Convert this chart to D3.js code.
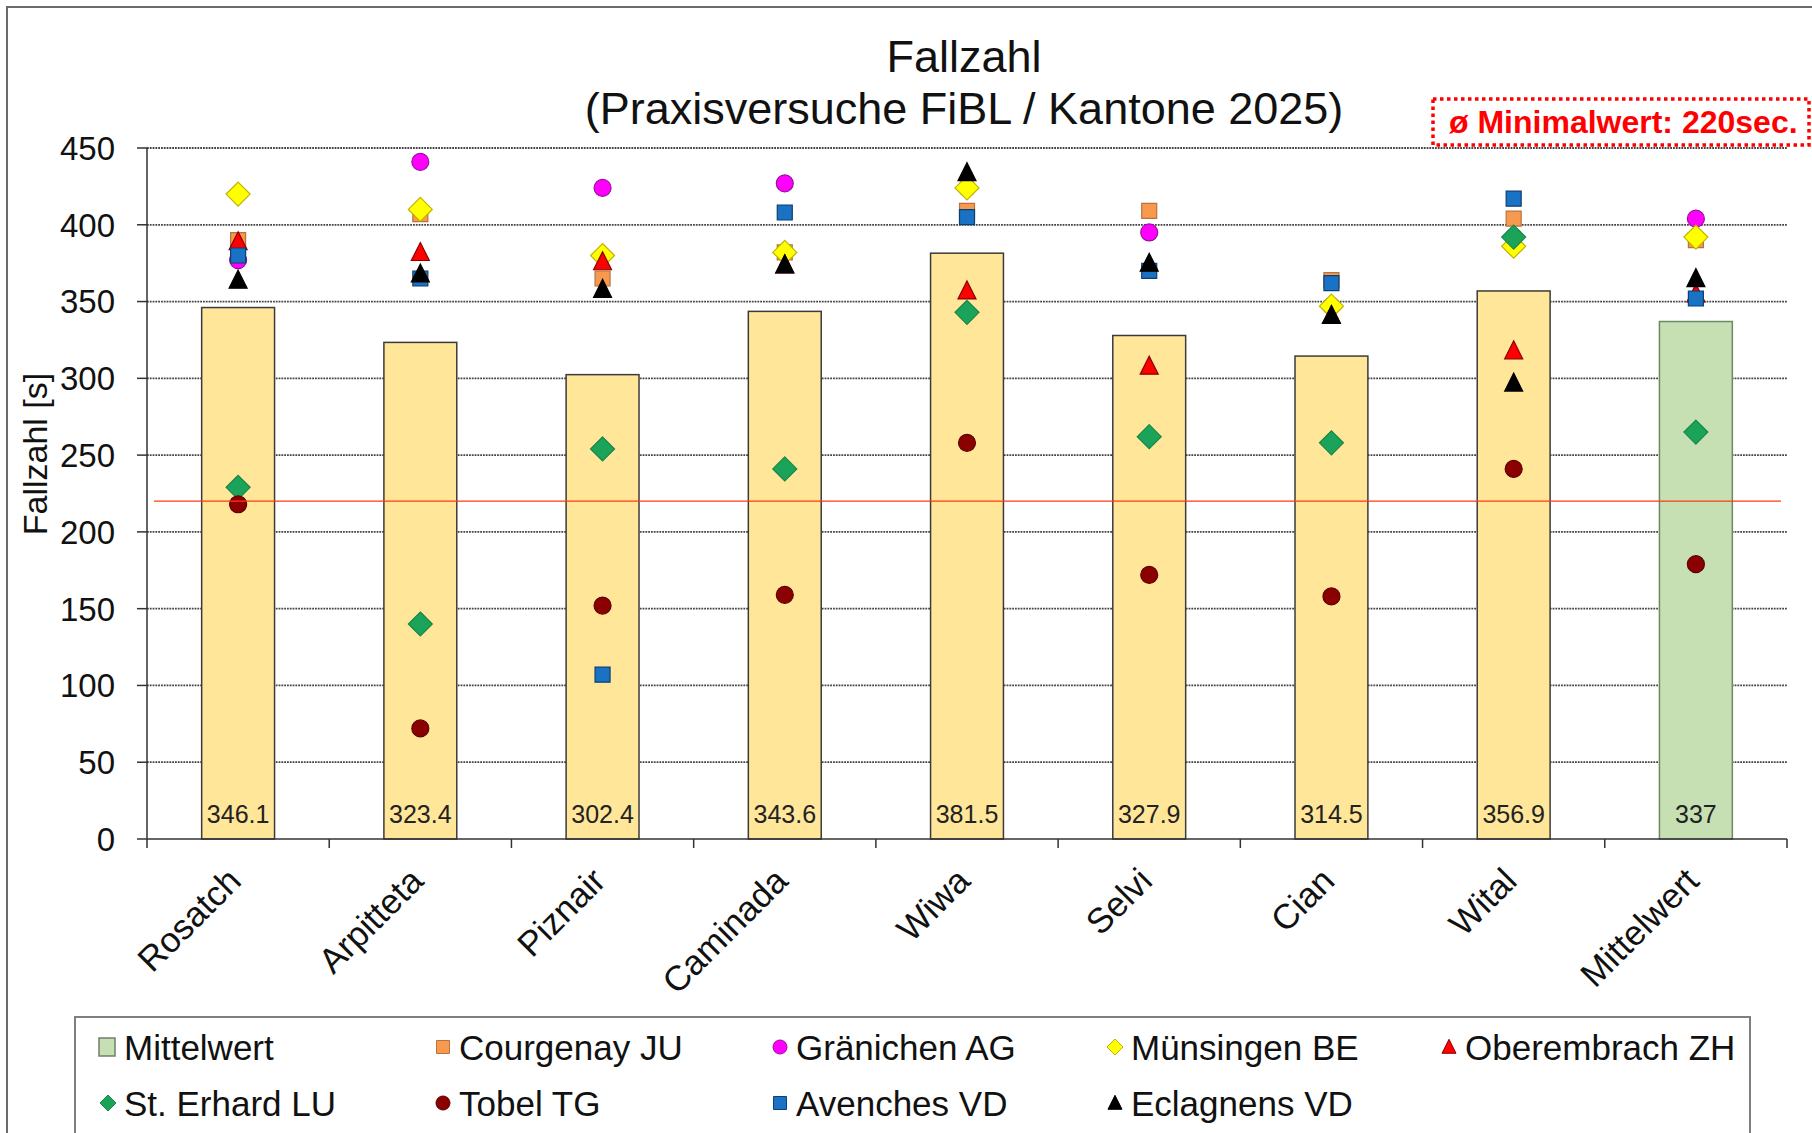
<!DOCTYPE html>
<html>
<head>
<meta charset="utf-8">
<script src="https://cdn.jsdelivr.net/npm/d3@7"></script>
<style>
  html, body { margin: 0; padding: 0; background: #fff; }
  svg { display: block; font-family: "Liberation Sans", Arial, sans-serif; }
</style>
</head>
<body>
<div id="chart"></div>
<script>
const categories = ["Rosatch", "Arpitteta", "Piznair", "Caminada", "Wiwa", "Selvi", "Cian", "Wital", "Mittelwert"];
const barValues = [346.1, 323.4, 302.4, 343.6, 381.5, 327.9, 314.5, 356.9, 337];

// one value per category, last one is the Mittelwert column
const courgenay = [390, 407, 365, 382, 409, 409, 364, 404, 390];
const graenichen = [377, 441, 424, 427, 424, 395, 347, 392, 404];
const muensingen = [420, 410, 380, 382, 424, null, 347, 386, 392];
const oberembrach = [389, 382, 376, 374, 357, 308, 341, 318, 355];
const stErhard = [229, 140, 254, 241, 343, 262, 258, 392, 265];
const tobel = [218, 72, 152, 159, 258, 172, 158, 241, 179];
const avenches = [380, 365, 107, 408, 405, 370, 362, 417, 352];
const eclagnens = [364, 368, 358, 374, 434, 375, 341, 297, 365];

const yTicks = [0, 50, 100, 150, 200, 250, 300, 350, 400, 450];
const minimalwert = 220;

const series = [
  { name: "Courgenay JU", values: courgenay, shape: "square", fill: "#f79a4f", stroke: "#b8733c" },
  { name: "Gränichen AG", values: graenichen, shape: "circle", fill: "#ff00ff", stroke: "#9b109b" },
  { name: "Münsingen BE", values: muensingen, shape: "diamond", fill: "#ffff00", stroke: "#c2b200" },
  { name: "Oberembrach ZH", values: oberembrach, shape: "triangle", fill: "#ff0000", stroke: "#8a0000" },
  { name: "St. Erhard LU", values: stErhard, shape: "diamond", fill: "#1ca35a", stroke: "#17874a" },
  { name: "Tobel TG", values: tobel, shape: "circle", fill: "#8b0000", stroke: "#5e0000" },
  { name: "Avenches VD", values: avenches, shape: "square", fill: "#1a72c4", stroke: "#0d3f73" },
  { name: "Eclagnens VD", values: eclagnens, shape: "triangle", fill: "#000000", stroke: "#000000" },
];

const width = 1812;
const height = 1133;
const plot = { left: 147, right: 1787, top: 148, bottom: 839 };

// marker outline paths, centred on 0,0
function markerPath(shape, s) {
  const h = s / 2;
  if (shape === "square") return `M${-h},${-h}H${h}V${h}H${-h}Z`;
  if (shape === "diamond") return `M0,${-h}L${h},0L0,${h}L${-h},0Z`;
  if (shape === "triangle") return `M0,${-h * 1.1}L${h},${h * 0.9}L${-h},${h * 0.9}Z`;
  return `M${h},0A${h},${h} 0 1,1 ${-h},0A${h},${h} 0 1,1 ${h},0Z`;
}
const chartSize = { square: 15, circle: 17, diamond: 24, triangle: 18 };
const legendSize = { square: 13, circle: 14, diamond: 16, triangle: 14 };

const svg = d3
  .select("#chart")
  .append("svg")
  .attr("width", width)
  .attr("height", height);

svg.append("rect").attr("width", width).attr("height", height).attr("fill", "#fff");

// outer chart frame (runs off the right and bottom edge)
svg
  .append("rect")
  .attr("x", 7)
  .attr("y", 7)
  .attr("width", 1840)
  .attr("height", 1160)
  .attr("fill", "none")
  .attr("stroke", "#6b6b6b")
  .attr("stroke-width", 2);

const x = d3
  .scaleBand()
  .domain(categories)
  .range([plot.left, plot.right])
  .paddingInner(0.6)
  .paddingOuter(0.3);

const y = d3.scaleLinear().domain([0, 450]).range([plot.bottom, plot.top]);

const cx = (c) => x(c) + x.bandwidth() / 2;
const step = x.step();

// gridlines
svg
  .append("g")
  .selectAll("line")
  .data(yTicks.filter((d) => d > 0))
  .enter()
  .append("line")
  .attr("x1", plot.left)
  .attr("x2", plot.right)
  .attr("y1", (d) => y(d))
  .attr("y2", (d) => y(d))
  .attr("stroke", "#444")
  .attr("stroke-width", 1.8)
  .attr("stroke-dasharray", "1.8,1");

// y axis
const yAxis = svg.append("g");
yAxis
  .append("line")
  .attr("x1", plot.left)
  .attr("x2", plot.left)
  .attr("y1", plot.top)
  .attr("y2", plot.bottom)
  .attr("stroke", "#333")
  .attr("stroke-width", 1.5);
yAxis
  .selectAll(".tick")
  .data(yTicks)
  .enter()
  .append("line")
  .attr("x1", plot.left - 10)
  .attr("x2", plot.left)
  .attr("y1", (d) => y(d))
  .attr("y2", (d) => y(d))
  .attr("stroke", "#333")
  .attr("stroke-width", 1.5);
yAxis
  .selectAll(".lbl")
  .data(yTicks)
  .enter()
  .append("text")
  .attr("x", 115)
  .attr("y", (d) => y(d))
  .attr("dy", "0.36em")
  .attr("text-anchor", "end")
  .attr("font-size", 33)
  .attr("fill", "#111")
  .text((d) => d);

svg
  .append("text")
  .attr("transform", "translate(47,454) rotate(-90)")
  .attr("text-anchor", "middle")
  .attr("font-size", 34)
  .attr("fill", "#111")
  .text("Fallzahl [s]");

// bars
svg
  .append("g")
  .selectAll("rect")
  .data(categories)
  .enter()
  .append("rect")
  .attr("x", (d) => x(d))
  .attr("y", (d, i) => y(barValues[i]))
  .attr("width", x.bandwidth())
  .attr("height", (d, i) => y(0) - y(barValues[i]))
  .attr("fill", (d) => (d === "Mittelwert" ? "#c6e0b4" : "#ffe699"))
  .attr("stroke", (d) => (d === "Mittelwert" ? "#6f8763" : "#3b3b3b"))
  .attr("stroke-width", 1.5);

svg
  .append("g")
  .selectAll("text")
  .data(categories)
  .enter()
  .append("text")
  .attr("x", (d) => cx(d))
  .attr("y", y(0) - 16)
  .attr("text-anchor", "middle")
  .attr("font-size", 25)
  .attr("fill", "#222")
  .text((d, i) => barValues[i]);

// x axis with ticks between categories
const xAxis = svg.append("g");
xAxis
  .append("line")
  .attr("x1", plot.left)
  .attr("x2", plot.right)
  .attr("y1", plot.bottom)
  .attr("y2", plot.bottom)
  .attr("stroke", "#333")
  .attr("stroke-width", 1.5);
xAxis
  .selectAll(".tick")
  .data(d3.range(categories.length + 1))
  .enter()
  .append("line")
  .attr("x1", (i) => plot.left + i * step)
  .attr("x2", (i) => plot.left + i * step)
  .attr("y1", plot.bottom)
  .attr("y2", plot.bottom + 9)
  .attr("stroke", "#333")
  .attr("stroke-width", 1.5);
xAxis
  .selectAll(".lbl")
  .data(categories)
  .enter()
  .append("text")
  .attr("transform", (d) => `translate(${cx(d) + 5},${plot.bottom + 44}) rotate(-45)`)
  .attr("text-anchor", "end")
  .attr("font-size", 35)
  .attr("fill", "#111")
  .text((d) => d);

// site markers
series.forEach((s) => {
  svg
    .append("g")
    .selectAll("path")
    .data(s.values.map((v, i) => ({ v, c: categories[i] })).filter((d) => d.v != null))
    .enter()
    .append("path")
    .attr("transform", (d) => `translate(${cx(d.c)},${y(d.v)})`)
    .attr("d", markerPath(s.shape, chartSize[s.shape]))
    .attr("fill", s.fill)
    .attr("stroke", s.stroke)
    .attr("stroke-width", 1.2);
});

// 220 s limit line
svg
  .append("line")
  .attr("x1", plot.left + 7)
  .attr("x2", plot.right - 6)
  .attr("y1", y(minimalwert))
  .attr("y2", y(minimalwert))
  .attr("stroke", "#ff3a14")
  .attr("stroke-width", 1.2);

// title
const title = svg.append("text").attr("text-anchor", "middle").attr("font-size", 45).attr("fill", "#111");
title.append("tspan").attr("x", 964).attr("y", 72).text("Fallzahl");
title.append("tspan").attr("x", 964).attr("y", 124).text("(Praxisversuche FiBL / Kantone 2025)");

// Minimalwert note
svg
  .append("rect")
  .attr("x", 1433)
  .attr("y", 99)
  .attr("width", 376)
  .attr("height", 46)
  .attr("fill", "#fff")
  .attr("stroke", "#ff0000")
  .attr("stroke-width", 3.5)
  .attr("stroke-dasharray", "3.5,3.5");
svg
  .append("text")
  .attr("x", 1449)
  .attr("y", 133)
  .attr("font-size", 32)
  .attr("font-weight", "bold")
  .attr("fill", "#ff0000")
  .text(`ø Minimalwert: ${minimalwert}sec.`);

// legend
const legend = svg.append("g");
legend
  .append("rect")
  .attr("x", 75)
  .attr("y", 1017)
  .attr("width", 1675)
  .attr("height", 140)
  .attr("fill", "#fff")
  .attr("stroke", "#7f7f7f")
  .attr("stroke-width", 2);

const legendItems = [{ name: "Mittelwert", shape: "bar" }].concat(series);
const colX = [124, 459, 796, 1131, 1465];
const rowY = [1047, 1103];

const item = legend
  .selectAll(".item")
  .data(legendItems)
  .enter()
  .append("g")
  .attr("transform", (d, i) => `translate(${colX[i % 5]},${rowY[Math.floor(i / 5)]})`);

item.each(function (d) {
  const g = d3.select(this);
  if (d.shape === "bar") {
    g.append("rect")
      .attr("x", -25)
      .attr("y", -9)
      .attr("width", 16)
      .attr("height", 18)
      .attr("fill", "#c6e0b4")
      .attr("stroke", "#6f7f69")
      .attr("stroke-width", 1.5);
  } else {
    g.append("path")
      .attr("transform", "translate(-16,0)")
      .attr("d", markerPath(d.shape, legendSize[d.shape]))
      .attr("fill", d.fill)
      .attr("stroke", d.stroke)
      .attr("stroke-width", 1);
  }
});

item
  .append("text")
  .attr("x", 0)
  .attr("dy", "0.36em")
  .attr("font-size", 35)
  .attr("fill", "#111")
  .text((d) => d.name);
</script>
</body>
</html>
